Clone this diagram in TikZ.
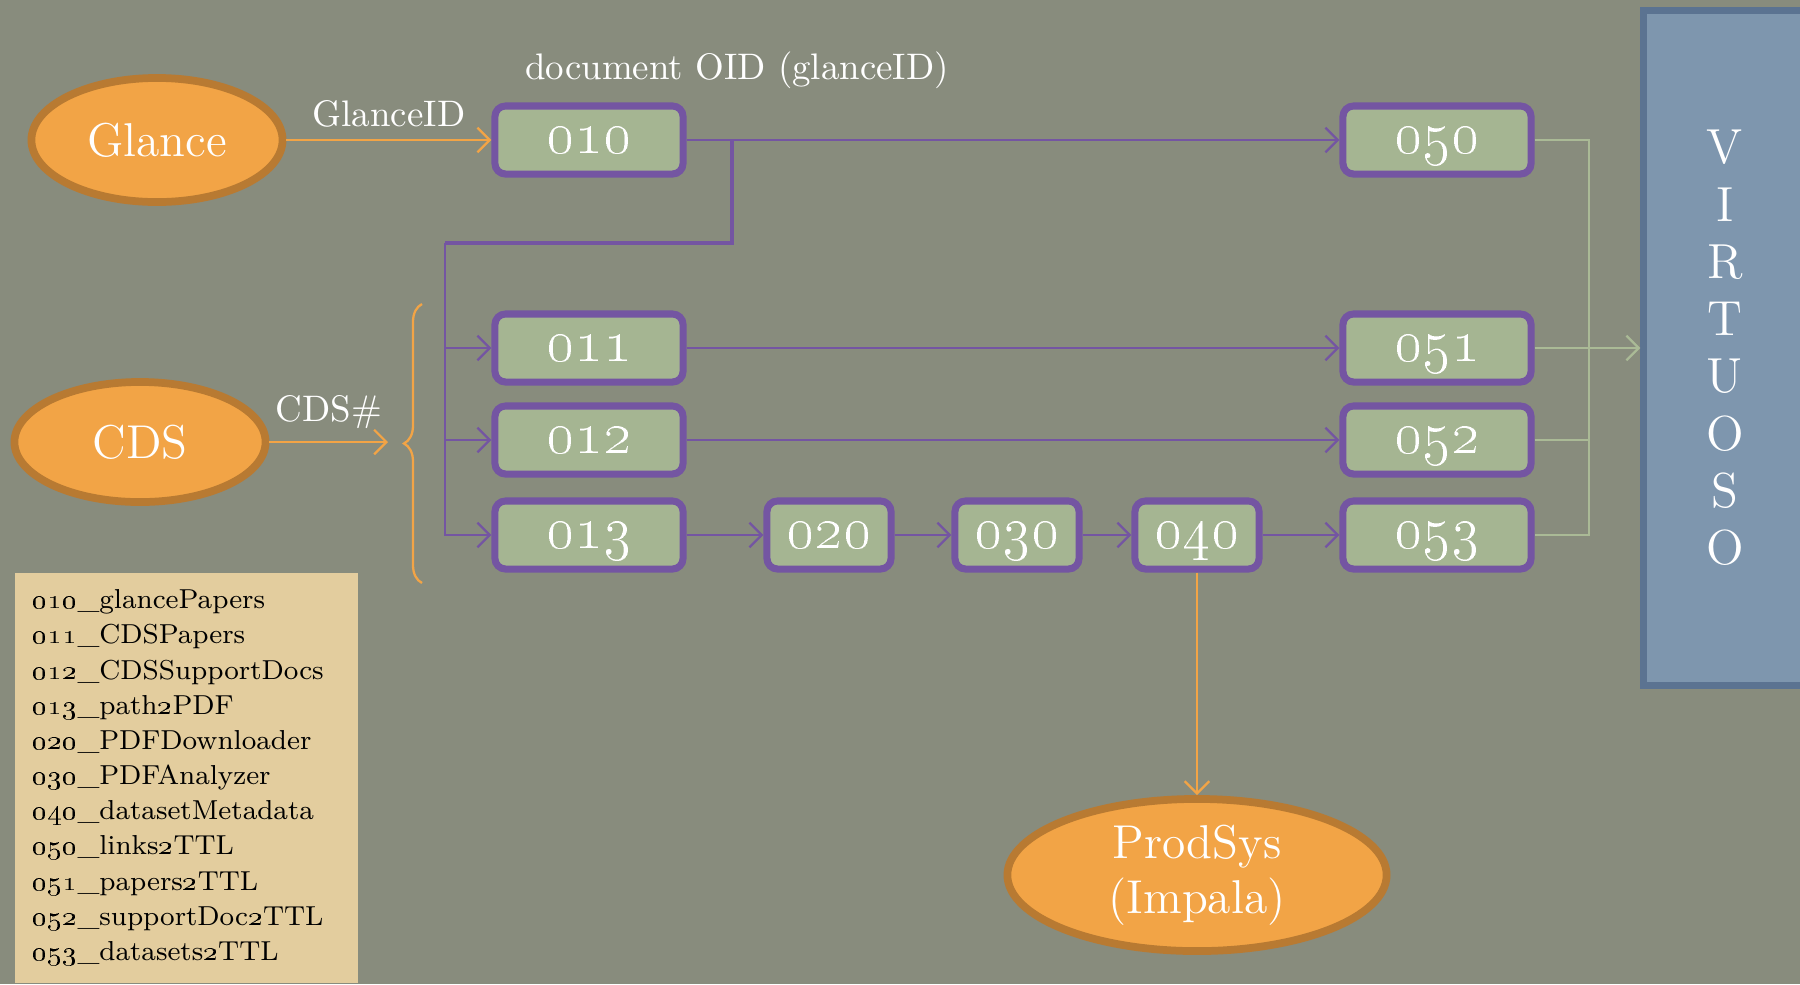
\documentclass[tikz,border=0pt]{standalone}
\usepackage{tikz}
\usetikzlibrary{shapes.geometric,arrows.meta,decorations.pathreplacing}
\definecolor{slate}{RGB}{136,140,125}
\definecolor{orfill}{RGB}{242,164,70}
\definecolor{ordraw}{RGB}{184,122,50}
\definecolor{boxfill}{RGB}{165,181,146}
\definecolor{boxdraw}{RGB}{116,85,162}
\definecolor{grline}{RGB}{170,186,150}
\definecolor{vfill}{RGB}{126,150,174}
\definecolor{vdraw}{RGB}{91,115,145}
\definecolor{paper}{RGB}{227,205,158}

\begin{document}
\begin{tikzpicture}[x=0.01cm,y=-0.01cm]
  \tikzset{source/.style = {shape=ellipse,draw=ordraw,fill=orfill,line width=2.2pt,text=white,inner sep=1pt,font=\fontsize{13.5}{15.7}\selectfont}}
  \tikzset{proc/.style = {shape=rectangle,rounded corners=3pt,draw=boxdraw,fill=boxfill,line width=2pt,text=white,minimum width=1.88cm,minimum height=0.68cm,inner ysep=0pt,text height=0.75em,text depth=0pt,font=\fontsize{16}{18}\selectfont}}
  \tikzset{procsm/.style = {proc,minimum width=1.24cm}}
  \tikzset{lab/.style = {text=white,font=\fontsize{10.5}{12}\selectfont}}
  \tikzset{edge/.style = {-{Straight Barb[length=3.5pt,width=7pt]},draw=boxdraw,line width=0.65pt}}
  \tikzset{oredge/.style = {edge,draw=orfill}}
  \tikzset{gredge/.style = {edge,draw=grline}}
  \useasboundingbox (0,0) rectangle (1800,984);
  \fill[slate] (0,0) rectangle (1800,984);

	\node[source][minimum width=2.51cm,minimum height=1.24cm] (glance) at (157,140) {Glance};
	\node[source][minimum width=2.51cm,minimum height=1.2cm] (cds) at (140,442) {CDS};
	\node[source][minimum width=3.79cm,minimum height=1.34cm,align=center] (prodsys) at (1197,875) {ProdSys\\(Impala)};

	\node[proc] (010) at (589,140) {\oldstylenums{010}};
	\node[proc] (011) at (589,348) {\oldstylenums{011}};
	\node[proc] (012) at (589,440) {\oldstylenums{012}};
	\node[proc] (013) at (589,535) {\oldstylenums{013}};
	\node[procsm] (020) at (829,535) {\oldstylenums{020}};
	\node[procsm] (030) at (1017,535) {\oldstylenums{030}};
	\node[procsm] (040) at (1197,535) {\oldstylenums{040}};
	\node[proc] (050) at (1437,140) {\oldstylenums{050}};
	\node[proc] (051) at (1437,348) {\oldstylenums{051}};
	\node[proc] (052) at (1437,440) {\oldstylenums{052}};
	\node[proc] (053) at (1437,535) {\oldstylenums{053}};

	\node[lab] (oid) at (737,70) {document OID (glanceID)};

	\node[draw=vdraw,fill=vfill,line width=2pt,minimum width=1.62cm,minimum height=6.74cm,
	  align=center,text=white,font=\fontsize{14}{16.3}\selectfont] (virtuoso) at (1725,348)
	  {V\\I\\R\\T\\U\\O\\S\\O};

	\node[fill=paper,anchor=north west,text width=3.07cm,align=left,inner xsep=0.18cm,inner ysep=0.17cm,
	  font=\fontsize{7.8}{10}\selectfont] (legend) at (14,572)
	  {\oldstylenums{010}\_glancePapers\\
	   \oldstylenums{011}\_CDSPapers\\
	   \oldstylenums{012}\_CDSSupportDocs\\
	   \oldstylenums{013}\_path\oldstylenums{2}PDF\\
	   \oldstylenums{020}\_PDFDownloader\\
	   \oldstylenums{030}\_PDFAnalyzer\\
	   \oldstylenums{040}\_datasetMetadata\\
	   \oldstylenums{050}\_links\oldstylenums{2}TTL\\
	   \oldstylenums{051}\_papers\oldstylenums{2}TTL\\
	   \oldstylenums{052}\_supportDoc\oldstylenums{2}TTL\\
	   \oldstylenums{053}\_datasets\oldstylenums{2}TTL};

	% inputs
	\coordinate (btop) at (422,304);
	\coordinate (bbot) at (422,583);
	\coordinate (cdsin) at (388,442);
	\draw[oredge] (glance) -- node[lab,above] {GlanceID} (010);
	\draw[oredge] (cds) -- node[lab,above] {CDS\#} (cdsin);
	\draw[draw=orfill,line width=0.65pt,decorate,decoration={brace,amplitude=0.18cm}] (bbot) -- (btop);

	% fan out of 010
	\coordinate (split) at (732,140);
	\coordinate (bus) at (445,243);
	\draw[edge,-,line width=1.2pt] (split) |- (bus);
	\draw[edge] (bus) |- (013);
	\draw[edge] (bus |- 011) -- (011);
	\draw[edge] (bus |- 012) -- (012);

    \foreach \from/\to in {010/050,011/051,012/052,013/020,020/030,030/040,040/053}
    \draw[edge] (\from) -- (\to);

	\draw[oredge] (040) -- (prodsys);

	% into virtuoso
	\coordinate (gbus) at (1589,348);
	\draw[gredge,-] (050) -| (gbus) |- (053);
	\draw[gredge,-] (052) -- (052 -| gbus);
	\draw[gredge] (051) -- (virtuoso);
\end{tikzpicture}
\end{document}
